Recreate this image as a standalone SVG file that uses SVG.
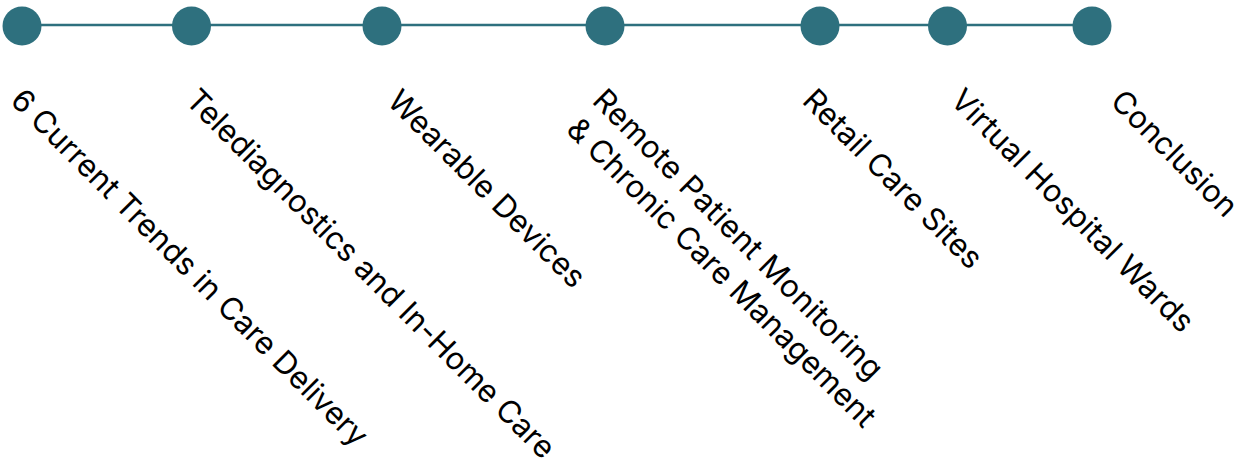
<svg xmlns="http://www.w3.org/2000/svg" width="1243" height="458" viewBox="0 0 1243 458">
  <style>
    .track { stroke: #2e707e; stroke-width: 2.5; fill: none; }
    .dot { fill: #2e707e; }
    .label { font-family: Inter, "Liberation Sans", sans-serif; font-size: 31px; fill: #000; }
  </style>
  <rect width="1243" height="458" fill="#ffffff"/>

  <!-- timeline track -->
  <g id="connectors">
    <line class="track" x1="22" y1="25" x2="1092" y2="25"/>
  </g>

  <!-- milestones: dot + rotated caption -->
  <g id="node-trends">
    <circle class="dot" cx="22" cy="26" r="19.5"/>
    <text class="label" transform="translate(9,102) rotate(45)">6 Current Trends in Care Delivery</text>
  </g>
  <g id="node-telediagnostics">
    <circle class="dot" cx="191.5" cy="26" r="19.5"/>
    <text class="label" transform="translate(184,102) rotate(45)">Telediagnostics and In-Home Care</text>
  </g>
  <g id="node-wearables">
    <circle class="dot" cx="382" cy="26" r="19.5"/>
    <text class="label" transform="translate(386,103) rotate(45)">Wearable Devices</text>
  </g>
  <g id="node-rpm">
    <circle class="dot" cx="605" cy="26" r="19.5"/>
    <text class="label" transform="translate(591,102) rotate(45)" letter-spacing="0.3">Remote Patient Monitoring</text>
    <text class="label" transform="translate(565,131) rotate(45)">&amp; Chronic Care Management</text>
  </g>
  <g id="node-retail">
    <circle class="dot" cx="820" cy="26" r="19.5"/>
    <text class="label" transform="translate(801,102) rotate(45)">Retail Care Sites</text>
  </g>
  <g id="node-virtual-wards">
    <circle class="dot" cx="947.5" cy="26" r="19.5"/>
    <text class="label" transform="translate(949,102) rotate(45)" letter-spacing="0.2">Virtual Hospital Wards</text>
  </g>
  <g id="node-conclusion">
    <circle class="dot" cx="1092" cy="26" r="19.5"/>
    <text class="label" transform="translate(1109,103) rotate(45)">Conclusion</text>
  </g>
</svg>
